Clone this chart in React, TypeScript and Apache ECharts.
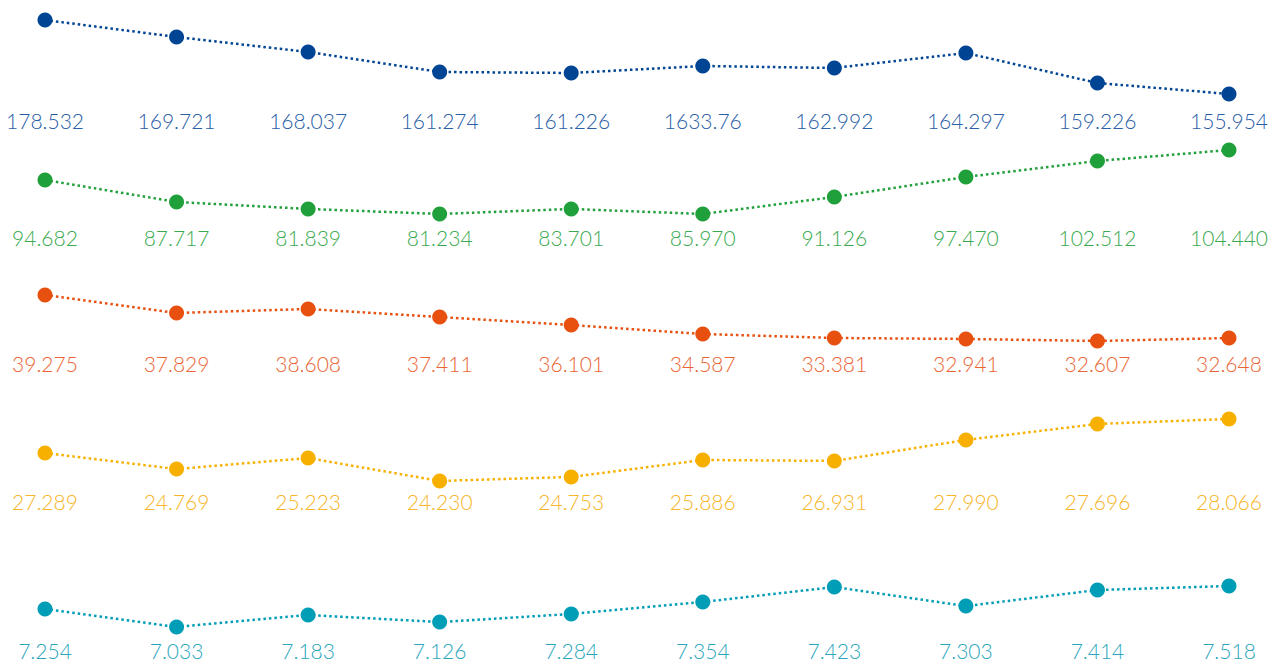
import React, { useEffect, useRef } from "react";
import * as echarts from "echarts";

// Label texts shown under each point (as printed in the reference)
const labelsBlue = ["178.532", "169.721", "168.037", "161.274", "161.226", "1633.76", "162.992", "164.297", "159.226", "155.954"];
const labelsGreen = ["94.682", "87.717", "81.839", "81.234", "83.701", "85.970", "91.126", "97.470", "102.512", "104.440"];
const labelsOrange = ["39.275", "37.829", "38.608", "37.411", "36.101", "34.587", "33.381", "32.941", "32.607", "32.648"];
const labelsYellow = ["27.289", "24.769", "25.223", "24.230", "24.753", "25.886", "26.931", "27.990", "27.696", "28.066"];
const labelsTeal = ["7.254", "7.033", "7.183", "7.126", "7.284", "7.354", "7.423", "7.303", "7.414", "7.518"];

// Plotted values
const valuesBlue = [178.53, 173.35, 168.77, 162.67, 162.36, 164.5, 163.89, 168.46, 159.31, 155.95];
const valuesGreen = [94.68, 87.53, 85.25, 83.62, 85.25, 83.62, 89.15, 95.66, 100.86, 104.44];
const valuesOrange = [39.28, 36.5, 37.12, 35.88, 34.65, 33.26, 32.65, 32.5, 32.19, 32.65];
const valuesYellow = [25.96, 24.97, 25.65, 24.23, 24.48, 25.53, 25.47, 26.77, 27.76, 28.07];
const valuesTeal = [7.246, 7.033, 7.175, 7.092, 7.187, 7.329, 7.506, 7.281, 7.471, 7.518];

const rows = [
  { labels: labelsBlue, values: valuesBlue, color: "#004494", text: "#2a5ea6", min: 155, max: 180, top: 15.2, height: 81.9, margin: 13 },
  { labels: labelsGreen, values: valuesGreen, color: "#20a03a", text: "#3aaa50", min: 80, max: 106, top: 145.2, height: 79.9, margin: 2 },
  { labels: labelsOrange, values: valuesOrange, color: "#e8500f", text: "#ea6535", min: 31, max: 40, top: 290.3, height: 58.4, margin: 4 },
  { labels: labelsYellow, values: valuesYellow, color: "#f8b000", text: "#f7b52a", min: 24, max: 29, top: 403.9, height: 80.8, margin: 6 },
  { labels: labelsTeal, values: valuesTeal, color: "#009db6", text: "#2aa6bb", min: 7.0, max: 7.6, top: 579.1, height: 50.7, margin: 10 },
];

export default function App() {
  const ref = useRef<HTMLDivElement>(null);
  useEffect(() => {
    document.body.style.margin = "0";
    if (!ref.current) return;
    const chart = echarts.init(ref.current, undefined, { renderer: "svg" });
    const font = "Lato, 'Open Sans', sans-serif";
    chart.setOption({
      animation: false,
      grid: rows.map((r) => ({
        left: 45,
        right: 53,
        top: r.top,
        height: r.height,
        containLabel: false,
        outerBoundsMode: "none",
      })),
      xAxis: rows.map((r, i) => ({
        type: "category",
        gridIndex: i,
        data: r.labels,
        boundaryGap: false,
        axisLine: { show: false },
        axisTick: { show: false },
        splitLine: { show: false },
        axisLabel: {
          interval: 0,
          hideOverlap: false,
          showMinLabel: true,
          showMaxLabel: true,
          margin: r.margin,
          color: r.text,
          fontSize: 21,
          lineHeight: 21,
          fontWeight: 300,
          fontFamily: font,
        },
      })),
      yAxis: rows.map((r, i) => ({
        type: "value",
        gridIndex: i,
        min: r.min,
        max: r.max,
        show: false,
        splitLine: { show: false },
      })),
      series: rows.map((r, i) => ({
        type: "line",
        xAxisIndex: i,
        yAxisIndex: i,
        data: r.values,
        symbol: "circle",
        symbolSize: 15,
        itemStyle: { color: r.color },
        lineStyle: { color: r.color, width: 2.5, type: [2.5, 3] },
        label: { show: false },
      })),
    });
    return () => chart.dispose();
  }, []);
  return <div ref={ref} style={{ width: 1282, height: 664 }} />;
}
